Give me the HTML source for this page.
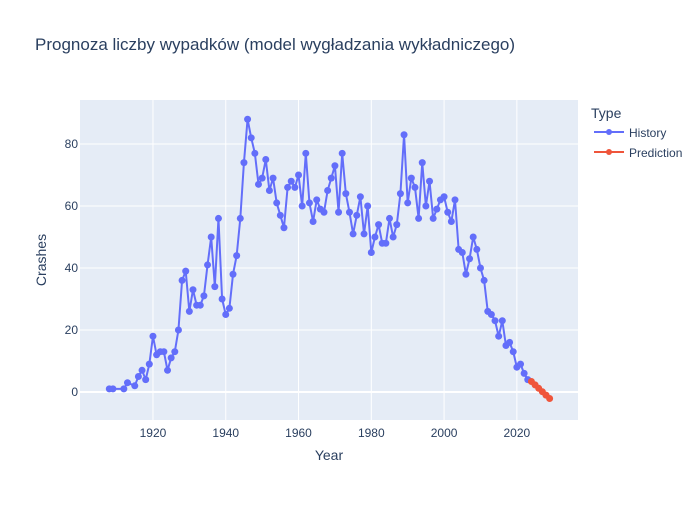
<!DOCTYPE html>
<html><head><meta charset="utf-8"><style>
body{margin:0;background:#fff;font-family:"Liberation Sans",Arial,sans-serif}
svg text{font-family:"Liberation Sans",Arial,sans-serif}
</style></head><body>
<svg id="chart" width="700" height="500" xmlns="http://www.w3.org/2000/svg">
<rect width="700" height="500" fill="#fff"/>
<text x="35" y="50" font-size="17" fill="#2a3f5f">Prognoza liczby wypadków (model wygładzania wykładniczego)</text>
<rect x="80" y="100" width="498" height="320" fill="#e5ecf6"/>
<g id="grid"></g>
<g id="marks"></g>
<g id="ticks"></g>
<text x="329" y="460" font-size="14" fill="#2a3f5f" text-anchor="middle">Year</text>
<text transform="translate(46,260) rotate(-90)" font-size="14" fill="#2a3f5f" text-anchor="middle">Crashes</text>
<g>
<text x="591" y="118" font-size="14" fill="#2a3f5f">Type</text>
<g>
<line x1="594" y1="132" x2="624" y2="132" stroke="#636efa" stroke-width="2"/><circle cx="609" cy="132" r="3" fill="#636efa"/>
<text x="629" y="137" font-size="12" fill="#2a3f5f">History</text></g>
<g>
<line x1="594" y1="152" x2="624" y2="152" stroke="#ef553b" stroke-width="2"/><circle cx="609" cy="152" r="3" fill="#ef553b"/>
<text x="629" y="157" font-size="12" fill="#2a3f5f">Prediction</text></g>
</g>
</svg>
<script>
const histYears=[1908,1909,1912,1913,1915,1916,1917,1918,1919,1920,1921,1922,1923,1924,1925,1926,1927,1928,1929,1930,1931,1932,1933,1934,1935,1936,1937,1938,1939,1940,1941,1942,1943,1944,1945,1946,1947,1948,1949,1950,1951,1952,1953,1954,1955,1956,1957,1958,1959,1960,1961,1962,1963,1964,1965,1966,1967,1968,1969,1970,1971,1972,1973,1974,1975,1976,1977,1978,1979,1980,1981,1982,1983,1984,1985,1986,1987,1988,1989,1990,1991,1992,1993,1994,1995,1996,1997,1998,1999,2000,2001,2002,2003,2004,2005,2006,2007,2008,2009,2010,2011,2012,2013,2014,2015,2016,2017,2018,2019,2020,2021,2022,2023];
const histValues=[1,1,1,3,2,5,7,4,9,18,12,13,13,7,11,13,20,36,39,26,33,28,28,31,41,50,34,56,30,25,27,38,44,56,74,88,82,77,67,69,75,65,69,61,57,53,66,68,66,70,60,77,61,55,62,59,58,65,69,73,58,77,64,58,51,57,63,51,60,45,50,54,48,48,56,50,54,64,83,61,69,66,56,74,60,68,56,59,62,63,58,55,62,46,45,38,43,50,46,40,36,26,25,23,18,23,15,16,13,8,9,6,4];
const predYears=[2024,2025,2026,2027,2028,2029];
const predValues=[3.4,2.3,1.2,0.1,-1.0,-2.1];
const xTicks=[1920,1940,1960,1980,2000,2020];
const yTicks=[0,20,40,60,80];
const NS="http://www.w3.org/2000/svg";
const X0=80,X1=578,Y0=420,Y1=100,xmin=1899.95,xmax=2036.8,ymin=-9.03,ymax=94.2;
const xs=v=>X0+(v-xmin)/(xmax-xmin)*(X1-X0);
const ys=v=>Y0-(v-ymin)/(ymax-ymin)*(Y0-Y1);
function mk(tag,a,p){const e=document.createElementNS(NS,tag);for(const k in a)e.setAttribute(k,a[k]);document.getElementById(p).appendChild(e);return e;}
xTicks.forEach(t=>{const l=mk('line',{x1:xs(t),x2:xs(t),y1:Y1,y2:Y0,stroke:'#fff','stroke-width':1},'grid');


const tx=mk('text',{x:xs(t),y:Y0+17,'font-size':12,fill:'#2a3f5f','text-anchor':'middle'},'ticks');tx.textContent=t;

});
yTicks.forEach(t=>{const l=mk('line',{x1:X0,x2:X1,y1:ys(t),y2:ys(t),stroke:'#fff','stroke-width':t===0?2:1},'grid');


const tx=mk('text',{x:X0-2-0,y:ys(t)+4,'font-size':12,fill:'#2a3f5f','text-anchor':'end'},'ticks');tx.setAttribute('x',X0-2);tx.textContent=t;

});
function series(xsA,vs,color,name){
const pl=mk('polyline',{points:xsA.map((x,i)=>xs(x)+','+ys(vs[i])).join(' '),fill:'none',stroke:color,'stroke-width':2,'stroke-linejoin':'round'},'marks');


xsA.forEach((x,i)=>{const c=mk('circle',{cx:xs(x),cy:ys(vs[i]),r:3.5,fill:color},'marks');

});}
series(histYears,histValues,'#636efa','history');
series(predYears,predValues,'#ef553b','prediction');
</script>
</body></html>
